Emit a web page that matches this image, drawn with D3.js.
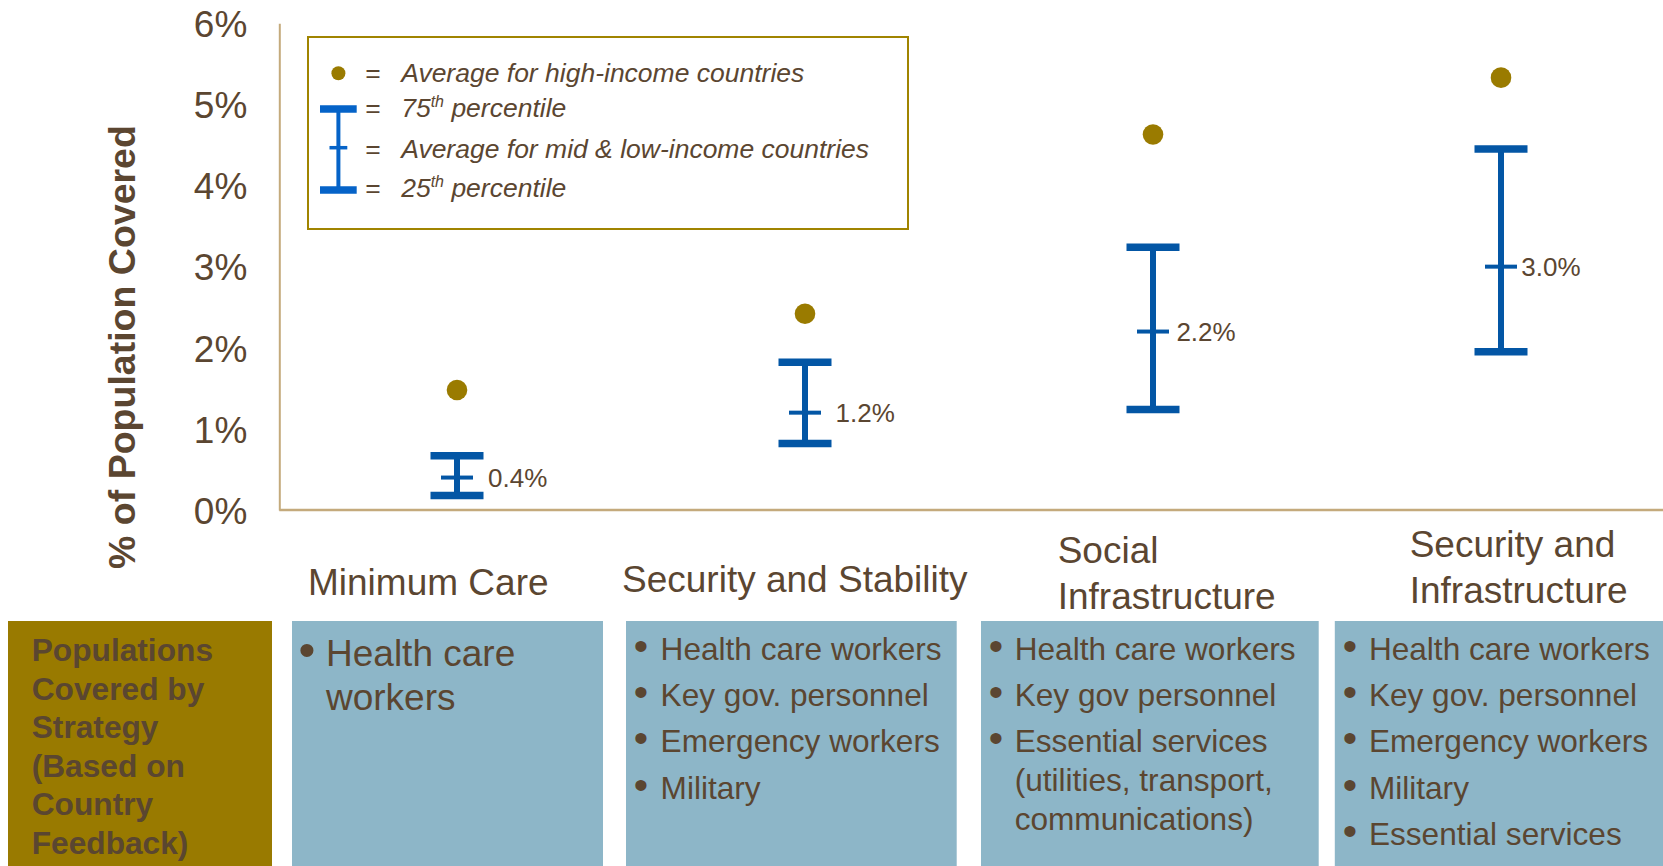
<!DOCTYPE html>
<html>
<head>
<meta charset="utf-8">
<script src="https://cdn.jsdelivr.net/npm/d3@7"></script>
<style>
  html, body { margin: 0; padding: 0; background: #fff; }
  svg { display: block; font-family: "Liberation Sans", Arial, sans-serif; }
</style>
</head>
<body>
<svg id="chart" width="1663" height="866"></svg>
<script>
// Strategy categories and their coverage statistics (% of population)
const categories = ["Minimum Care", "Security and Stability", "Social Infrastructure", "Security and Infrastructure"];
const categoryLines = [["Minimum Care"], ["Security and Stability"], ["Social", "Infrastructure"], ["Security and", "Infrastructure"]];
const highIncomeAvg = [1.48, 2.42, 4.63, 5.33];
const percentile75 = [0.67, 1.82, 3.24, 4.45];
const midLowAvg = [0.4, 1.2, 2.2, 3.0];
const percentile25 = [0.18, 0.82, 1.24, 1.95];
const midLowLabels = ["0.4%", "1.2%", "2.2%", "3.0%"];
const yTicks = [0, 1, 2, 3, 4, 5, 6];
const yTickLabels = ["0%", "1%", "2%", "3%", "4%", "5%", "6%"];

// Populations covered under each strategy
const rowHeader = ["Populations", "Covered by", "Strategy", "(Based on", "Country", "Feedback)"];
const populations = [
  [["Health care", "workers"]],
  [["Health care workers"], ["Key gov. personnel"], ["Emergency workers"], ["Military"]],
  [["Health care workers"], ["Key gov personnel"], ["Essential services", "(utilities, transport,", "communications)"]],
  [["Health care workers"], ["Key gov. personnel"], ["Emergency workers"], ["Military"], ["Essential services"]]
];

// Layout
const W = 1663, H = 866;
const TEXT = "#5b4631", GOLD = "#9a7b00", BLUE = "#0356a5", LEG_BLUE = "#0563c8", AXIS = "#c4aa7c", PANEL = "#8db6c8";
const valueLabelDx = [31, 30.6, 23.4, 20.3];

const svg = d3.select("#chart");

const x = d3.scalePoint().domain(categories).range([457, 1501]);
const y = d3.scaleLinear().domain([0, 6]).range([510, 23.3]);

// Y axis
const yAxis = d3.axisLeft(y)
  .tickValues(yTicks)
  .tickFormat((d, i) => yTickLabels[i])
  .tickSize(0)
  .tickSizeOuter(0)
  .tickPadding(32);

const gy = svg.append("g").attr("transform", "translate(279.3,0)").call(yAxis);
gy.select(".domain").attr("stroke", AXIS).attr("stroke-width", 2);
gy.selectAll(".tick text")
  .attr("fill", TEXT)
  .attr("font-size", 37)
  .attr("font-family", "'Liberation Sans', Arial, sans-serif")
  .attr("dy", "0.36em");

// X baseline
svg.append("line")
  .attr("x1", 279.3).attr("x2", W)
  .attr("y1", y(0)).attr("y2", y(0))
  .attr("stroke", AXIS).attr("stroke-width", 2.5);

// Y axis title
svg.append("text")
  .attr("transform", "translate(122,347) rotate(-90)")
  .attr("text-anchor", "middle")
  .attr("dominant-baseline", "central")
  .attr("font-size", 37.5)
  .attr("font-weight", "bold")
  .attr("fill", TEXT)
  .text("% of Population Covered");

// Error bars: 25th to 75th percentile with mid & low-income average tick
const capW = 53, midW = 32;
const bars = svg.append("g").selectAll("g")
  .data(categories.map((c, i) => ({ c, i })))
  .join("g");

bars.append("line")
  .attr("x1", d => x(d.c)).attr("x2", d => x(d.c))
  .attr("y1", d => y(percentile75[d.i])).attr("y2", d => y(percentile25[d.i]))
  .attr("stroke", BLUE).attr("stroke-width", 6);

bars.append("line")
  .attr("x1", d => x(d.c) - capW / 2).attr("x2", d => x(d.c) + capW / 2)
  .attr("y1", d => y(percentile75[d.i])).attr("y2", d => y(percentile75[d.i]))
  .attr("stroke", BLUE).attr("stroke-width", 7.5);

bars.append("line")
  .attr("x1", d => x(d.c) - capW / 2).attr("x2", d => x(d.c) + capW / 2)
  .attr("y1", d => y(percentile25[d.i])).attr("y2", d => y(percentile25[d.i]))
  .attr("stroke", BLUE).attr("stroke-width", 7.5);

bars.append("line")
  .attr("x1", d => x(d.c) - midW / 2).attr("x2", d => x(d.c) + midW / 2)
  .attr("y1", d => y(midLowAvg[d.i])).attr("y2", d => y(midLowAvg[d.i]))
  .attr("stroke", BLUE).attr("stroke-width", 4);

bars.append("text")
  .attr("x", d => x(d.c) + valueLabelDx[d.i])
  .attr("y", d => y(midLowAvg[d.i]))
  .attr("dy", "0.36em")
  .attr("font-size", 26)
  .attr("fill", TEXT)
  .text(d => midLowLabels[d.i]);

// High-income averages
svg.append("g").selectAll("circle")
  .data(categories.map((c, i) => ({ c, i })))
  .join("circle")
  .attr("cx", d => x(d.c))
  .attr("cy", d => y(highIncomeAvg[d.i]))
  .attr("r", 10.3)
  .attr("fill", GOLD);

// Legend
const lg = svg.append("g");
lg.append("rect")
  .attr("x", 308).attr("y", 37).attr("width", 600).attr("height", 192)
  .attr("fill", "none").attr("stroke", "#a08400").attr("stroke-width", 2);
lg.append("circle").attr("cx", 338.4).attr("cy", 73.3).attr("r", 7).attr("fill", GOLD);
lg.append("line").attr("x1", 338.4).attr("x2", 338.4).attr("y1", 109).attr("y2", 190)
  .attr("stroke", LEG_BLUE).attr("stroke-width", 4);
lg.append("line").attr("x1", 320).attr("x2", 356.7).attr("y1", 109).attr("y2", 109)
  .attr("stroke", LEG_BLUE).attr("stroke-width", 7.7);
lg.append("line").attr("x1", 320).attr("x2", 356.7).attr("y1", 190).attr("y2", 190)
  .attr("stroke", LEG_BLUE).attr("stroke-width", 7.7);
lg.append("line").attr("x1", 329.5).attr("x2", 347.3).attr("y1", 147.7).attr("y2", 147.7)
  .attr("stroke", LEG_BLUE).attr("stroke-width", 3.5);

const legendRows = [
  { base: 82, parts: [["Average for high-income countries"]] },
  { base: 117, parts: [["75"], ["th", "sup"], [" percentile"]] },
  { base: 158, parts: [["Average for mid & low-income countries"]] },
  { base: 197, parts: [["25"], ["th", "sup"], [" percentile"]] }
];
legendRows.forEach(r => {
  lg.append("text").attr("x", 373).attr("y", r.base).attr("text-anchor", "middle")
    .attr("font-size", 26.5).attr("fill", TEXT).text("=");
  const t = lg.append("text").attr("x", 401.2).attr("y", r.base)
    .attr("font-size", 26.5).attr("font-style", "italic").attr("fill", TEXT)
    .attr("xml:space", "preserve");
  r.parts.forEach(p => {
    if (p[1] === "sup") {
      t.append("tspan").attr("dy", -10).attr("font-size", 16).text(p[0]);
    } else {
      const s = t.append("tspan").text(p[0]);
      if (t.selectAll("tspan").size() > 1) s.attr("dy", 10);
    }
  });
});

// Category labels
const catLabelPos = [
  { x: 308, y: [595] },
  { x: 622, y: [591.7] },
  { x: 1057.7, y: [563.3, 609.3] },
  { x: 1409.7, y: [556.7, 603.3] }
];
categoryLines.forEach((lines, i) => {
  lines.forEach((ln, j) => {
    svg.append("text")
      .attr("x", catLabelPos[i].x).attr("y", catLabelPos[i].y[j])
      .attr("font-size", 37).attr("fill", TEXT).text(ln);
  });
});

// Population panels
const panelTop = 621;
svg.append("rect").attr("x", 8).attr("y", panelTop).attr("width", 264).attr("height", H - panelTop)
  .attr("fill", "#997a00");
rowHeader.forEach((ln, j) => {
  svg.append("text").attr("x", 31.7).attr("y", 661 + j * 38.5)
    .attr("font-size", 31.7).attr("font-weight", "bold").attr("fill", "#5a4630").text(ln);
});

const panels = [
  { x0: 292, x1: 603, bullet: 307, text: 326, size: 37, first: 665.7, item: 46, cont: 44.3 },
  { x0: 626, x1: 956.7, bullet: 641, text: 660.6, size: 31.6, first: 660, item: 46.2, cont: 38.6 },
  { x0: 981, x1: 1318.7, bullet: 996, text: 1014.7, size: 31.6, first: 660, item: 46.2, cont: 38.6 },
  { x0: 1334.8, x1: W, bullet: 1350, text: 1368.9, size: 31.6, first: 660, item: 46.2, cont: 38.6 }
];
panels.forEach((p, i) => {
  svg.append("rect").attr("x", p.x0).attr("y", panelTop).attr("width", p.x1 - p.x0).attr("height", H - panelTop)
    .attr("fill", PANEL);
  let yy = p.first;
  populations[i].forEach(item => {
    svg.append("text").attr("x", p.bullet).attr("y", yy).attr("text-anchor", "middle")
      .attr("font-size", p.size * 1.3).attr("fill", TEXT).text("•");
    item.forEach((ln, j) => {
      if (j > 0) yy += p.cont;
      svg.append("text").attr("x", p.text).attr("y", yy)
        .attr("font-size", p.size).attr("fill", TEXT).text(ln);
    });
    yy += p.item;
  });
});
</script>
</body>
</html>
